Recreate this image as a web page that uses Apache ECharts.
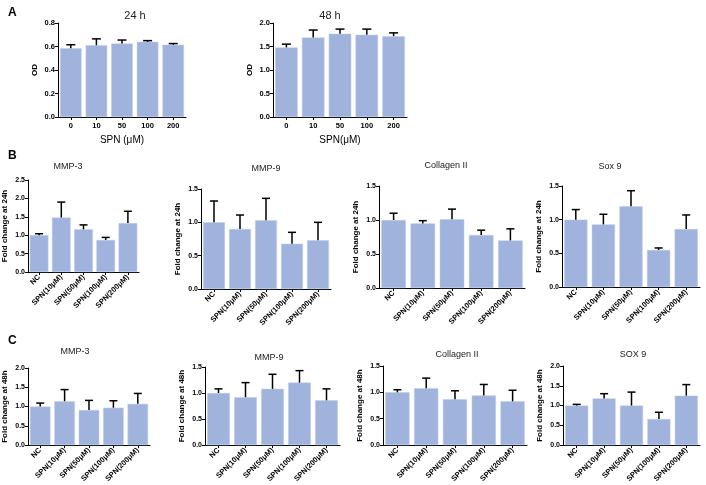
<!DOCTYPE html>
<html>
<head>
<meta charset="utf-8">
<script src="https://cdn.jsdelivr.net/npm/echarts@6/dist/echarts.min.js"></script>
<style>
html,body{margin:0;padding:0;background:#fff;}
#chart{width:706px;height:485px;}
</style>
</head>
<body>
<div id="chart"></div>
<script>
// ---------------- DATA ----------------
const doseLabels = ['0', '10', '50', '100', '200'];
const groupLabels = ['NC', 'SPN(10μM)', 'SPN(50μM)', 'SPN(100μM)', 'SPN(200μM)'];

const od24Mean = [0.585, 0.61, 0.625, 0.64, 0.615];
const od24Err  = [0.03, 0.055, 0.03, 0.01, 0.01];
const od48Mean = [1.48, 1.69, 1.77, 1.75, 1.72];
const od48Err  = [0.07, 0.16, 0.10, 0.12, 0.07];

const mmp3_24Mean = [1.0, 1.48, 1.16, 0.87, 1.33];
const mmp3_24Err  = [0.04, 0.42, 0.12, 0.07, 0.32];
const mmp9_24Mean = [1.0, 0.90, 1.03, 0.68, 0.73];
const mmp9_24Err  = [0.32, 0.21, 0.33, 0.17, 0.27];
const col2_24Mean = [1.0, 0.95, 1.01, 0.78, 0.70];
const col2_24Err  = [0.10, 0.04, 0.15, 0.07, 0.17];
const sox9_24Mean = [1.0, 0.93, 1.20, 0.55, 0.86];
const sox9_24Err  = [0.15, 0.15, 0.23, 0.03, 0.21];

const mmp3_48Mean = [1.0, 1.14, 0.91, 0.97, 1.07];
const mmp3_48Err  = [0.09, 0.30, 0.25, 0.18, 0.27];
const mmp9_48Mean = [1.0, 0.92, 1.08, 1.20, 0.86];
const mmp9_48Err  = [0.08, 0.28, 0.28, 0.23, 0.22];
const col2_48Mean = [1.0, 1.08, 0.87, 0.94, 0.83];
const col2_48Err  = [0.05, 0.19, 0.16, 0.21, 0.21];
const sox9_48Mean = [1.0, 1.18, 1.0, 0.66, 1.25];
const sox9_48Err  = [0.03, 0.12, 0.34, 0.17, 0.28];

// ---------------- LAYOUT ----------------
const FONT = '"Liberation Sans", Arial, sans-serif';
const BAR = '#a0b3dd';

const panels = [
  // row A
  {cats: doseLabels, mean: od24Mean, err: od24Err, yMax: 0.8, yInt: 0.2, yName: 'OD', xName: 'SPN (μM)', rot: 0,
   title: '24 h', tx: 130, ty: 5, tSize: 11, left: 58, top: 23, width: 128, height: 94, cap: 9},
  {cats: doseLabels, mean: od48Mean, err: od48Err, yMax: 2.0, yInt: 0.5, yName: 'OD', xName: 'SPN(μM)', rot: 0,
   title: '48 h', tx: 325, ty: 5, tSize: 11, left: 273, top: 23, width: 134, height: 94, cap: 9},
  // row B
  {cats: groupLabels, mean: mmp3_24Mean, err: mmp3_24Err, yMax: 2.5, yInt: 0.5, yName: 'Fold change at 24h', rot: 45,
   title: 'MMP-3', tx: 63, ty: 157, tSize: 9, left: 21, top: 180, width: 118, height: 92, cap: 8},
  {cats: groupLabels, mean: mmp9_24Mean, err: mmp9_24Err, yMax: 1.5, yInt: 0.5, yName: 'Fold change at 24h', rot: 45,
   title: 'MMP-9', tx: 261, ty: 159, tSize: 9, left: 201, top: 189, width: 130, height: 100, cap: 8},
  {cats: groupLabels, mean: col2_24Mean, err: col2_24Err, yMax: 1.5, yInt: 0.5, yName: 'Fold change at 24h', rot: 45,
   title: 'Collagen II', tx: 441, ty: 156, tSize: 9, left: 379, top: 186, width: 146, height: 102, cap: 8},
  {cats: groupLabels, mean: sox9_24Mean, err: sox9_24Err, yMax: 1.5, yInt: 0.5, yName: 'Fold change at 24h', rot: 45,
   title: 'Sox 9', tx: 605, ty: 157, tSize: 9, left: 562, top: 186, width: 138, height: 101, cap: 8},
  // row C
  {cats: groupLabels, mean: mmp3_48Mean, err: mmp3_48Err, yMax: 2.0, yInt: 0.5, yName: 'Fold change at 48h', rot: 45,
   title: 'MMP-3', tx: 70, ty: 342, tSize: 9, left: 22, top: 368, width: 128, height: 80, cap: 8},
  {cats: groupLabels, mean: mmp9_48Mean, err: mmp9_48Err, yMax: 1.5, yInt: 0.5, yName: 'Fold change at 48h', rot: 45,
   title: 'MMP-9', tx: 264, ty: 348, tSize: 9, left: 205, top: 367, width: 135, height: 81, cap: 8},
  {cats: groupLabels, mean: col2_48Mean, err: col2_48Err, yMax: 1.5, yInt: 0.5, yName: 'Fold change at 48h', rot: 45,
   title: 'Collagen II', tx: 452, ty: 345, tSize: 9, left: 383, top: 366, width: 144, height: 80, cap: 8},
  {cats: groupLabels, mean: sox9_48Mean, err: sox9_48Err, yMax: 2.0, yInt: 0.5, yName: 'Fold change at 48h', rot: 45,
   title: 'SOX 9', tx: 628, ty: 345, tSize: 9, left: 563, top: 366, width: 137, height: 80, cap: 8}
];

const letters = [
  {text: 'A', left: 3, top: 2},
  {text: 'B', left: 3, top: 145},
  {text: 'C', left: 3, top: 330}
];

// ---------------- BUILD OPTION ----------------
const grids = [], xAxes = [], yAxes = [], series = [], titles = [];

panels.forEach((p, i) => {
  const isA = !p.rot;
  grids.push({left: p.left, top: p.top, width: p.width, height: p.height, containLabel: false});
  xAxes.push({
    type: 'category', gridIndex: i, data: p.cats, boundaryGap: true,
    axisLine: {show: true, lineStyle: {color: '#000', width: 1}},
    axisTick: {show: true, alignWithLabel: true, length: 3, lineStyle: {color: '#000'}},
    axisLabel: {interval: 0, rotate: p.rot, color: '#000', fontFamily: FONT,
                fontSize: isA ? 7.5 : 7.5, fontWeight: 'bold', margin: isA ? 5 : 4},
    name: p.xName || '', nameLocation: 'middle', nameGap: 18,
    nameTextStyle: {color: '#000', fontFamily: FONT, fontSize: 10}
  });
  yAxes.push({
    type: 'value', gridIndex: i, min: 0, max: p.yMax, interval: p.yInt,
    axisLine: {show: true, lineStyle: {color: '#000', width: 1}},
    axisTick: {show: true, length: 3, lineStyle: {color: '#000'}},
    splitLine: {show: false},
    axisLabel: {color: '#000', fontFamily: FONT, fontSize: isA ? 7.5 : 7, fontWeight: 'bold', margin: 3,
                formatter: v => v.toFixed(1)},
    name: p.yName, nameLocation: 'middle', nameRotate: 90, nameGap: isA ? 19 : 19,
    nameTextStyle: {color: '#000', fontFamily: FONT, fontSize: 8, fontWeight: 'bold'}
  });
  series.push({
    type: 'bar', xAxisIndex: i, yAxisIndex: i, data: p.mean,
    barCategoryGap: '16%',
    itemStyle: {color: BAR, borderColor: '#bccae8', borderWidth: 0.5},
    silent: true, animation: false, z: 2
  });
  const cap = p.cap;
  series.push({
    type: 'custom', xAxisIndex: i, yAxisIndex: i,
    data: p.mean.map((m, j) => [j, m, m + p.err[j]]),
    renderItem: (params, api) => {
      const x = api.value(0);
      const base = api.coord([x, api.value(1)]);
      const top = api.coord([x, api.value(2)]);
      const st = {stroke: '#000', lineWidth: 1.5};
      return {type: 'group', children: [
        {type: 'line', shape: {x1: base[0], y1: base[1], x2: top[0], y2: top[1]}, style: st},
        {type: 'line', shape: {x1: top[0] - cap / 2, y1: top[1], x2: top[0] + cap / 2, y2: top[1]}, style: st}
      ]};
    },
    silent: true, animation: false, z: 3
  });
  titles.push({text: p.title, left: p.tx, top: p.ty, textAlign: 'center',
               textStyle: {color: '#222', fontFamily: FONT, fontSize: p.tSize, fontWeight: 'normal'}});
});

letters.forEach(l => titles.push({text: l.text, left: l.left, top: l.top,
  textStyle: {color: '#000', fontFamily: FONT, fontSize: 12, fontWeight: 'bold'}}));

const chart = echarts.init(document.getElementById('chart'), null, {renderer: 'canvas'});
chart.setOption({
  animation: false,
  backgroundColor: '#fff',
  title: titles,
  grid: grids,
  xAxis: xAxes,
  yAxis: yAxes,
  series: series
});
</script>
</body>
</html>
